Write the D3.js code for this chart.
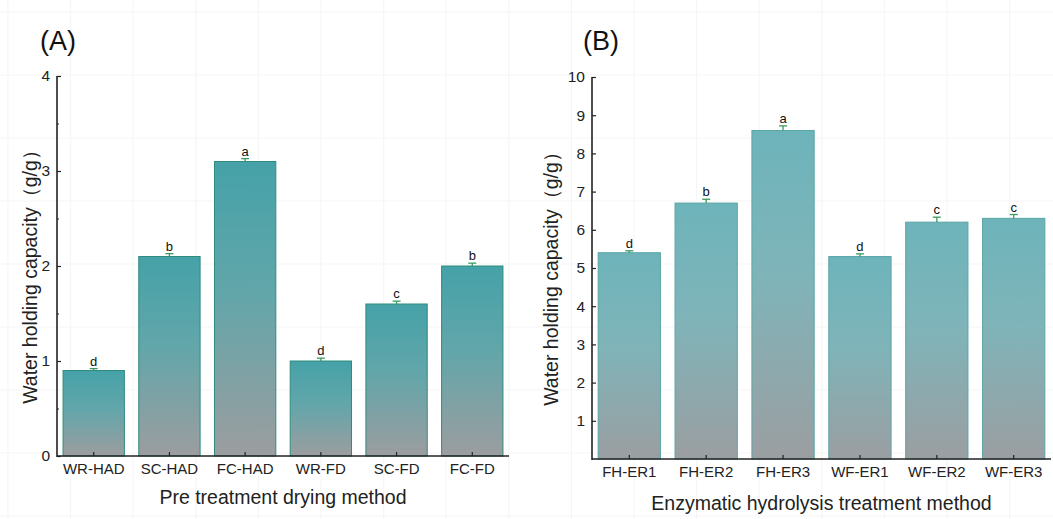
<!DOCTYPE html>
<html>
<head>
<meta charset="utf-8">
<script src="https://cdn.jsdelivr.net/npm/d3@7"></script>
<style>
  html, body { margin: 0; padding: 0; background: #fff; }
  svg { display: block; font-family: "Liberation Sans", Arial, sans-serif; }
</style>
</head>
<body>
<svg id="chart" width="1053" height="519"></svg>
<script>
// Panel A data
const catsA = ['WR-HAD', 'SC-HAD', 'FC-HAD', 'WR-FD', 'SC-FD', 'FC-FD'];
const valsA = [0.9, 2.1, 3.1, 1.0, 1.6, 2.0];
const errA = [0.02, 0.03, 0.03, 0.03, 0.03, 0.03];
const letA = ['d', 'b', 'a', 'd', 'c', 'b'];
const ticksA = [0, 1, 2, 3, 4];

// Panel B data
const catsB = ['FH-ER1', 'FH-ER2', 'FH-ER3', 'WF-ER1', 'WF-ER2', 'WF-ER3'];
const valsB = [5.4, 6.7, 8.6, 5.3, 6.2, 6.3];
const errB = [0.05, 0.1, 0.12, 0.07, 0.13, 0.1];
const letB = ['d', 'b', 'a', 'd', 'c', 'c'];
const ticksB = [1, 2, 3, 4, 5, 6, 7, 8, 9, 10];

const svg = d3.select('#chart');
const defs = svg.append('defs');

// faint background grid seen in the figure
const bg = svg.append('g').attr('stroke', '#f6f6f6').attr('stroke-width', 1.2);
d3.range(8, 1053, 62.6).forEach((x) => {
  bg.append('line').attr('x1', x).attr('x2', x).attr('y1', 0).attr('y2', 519);
});
d3.range(12, 519, 63).forEach((y) => {
  bg.append('line').attr('x1', 0).attr('x2', 1053).attr('y1', y).attr('y2', y);
});

function gradient(id, top, mid, bottom) {
  const g = defs.append('linearGradient').attr('id', id)
    .attr('x1', 0).attr('x2', 0).attr('y1', 0).attr('y2', 1);
  g.append('stop').attr('offset', '0%').attr('stop-color', top);
  g.append('stop').attr('offset', '45%').attr('stop-color', mid);
  g.append('stop').attr('offset', '100%').attr('stop-color', bottom);
}
gradient('gradA', '#45a2a8', '#62a6aa', '#9c9d9f');
gradient('gradB', '#6db4ba', '#7fb4b9', '#9b9ea1');

function panel(opt) {
  const g = svg.append('g');
  const x = d3.scaleBand().domain(opt.cats).range([opt.x0, opt.x1])
    .paddingInner(0.19).paddingOuter(0.08);
  const y = d3.scaleLinear().domain(opt.domain).range([opt.y0, opt.y1]);

  // bars
  g.append('g').selectAll('rect').data(opt.vals).join('rect')
    .attr('x', (d, i) => x(opt.cats[i]))
    .attr('y', (d) => y(d))
    .attr('width', x.bandwidth())
    .attr('height', (d) => y(0) - y(d))
    .attr('fill', `url(#${opt.grad})`)
    .attr('stroke', opt.stroke)
    .attr('stroke-width', 1);

  // error bars
  const eb = g.append('g').attr('stroke', '#3c9a5f').attr('stroke-width', 1.3);
  opt.vals.forEach((v, i) => {
    const cx = x(opt.cats[i]) + x.bandwidth() / 2;
    eb.append('line').attr('x1', cx).attr('x2', cx)
      .attr('y1', y(v)).attr('y2', y(v + opt.errs[i]));
    eb.append('line').attr('x1', cx - 4).attr('x2', cx + 4)
      .attr('y1', y(v + opt.errs[i])).attr('y2', y(v + opt.errs[i]));
  });

  // significance letters
  g.append('g').selectAll('text').data(opt.vals).join('text')
    .attr('x', (d, i) => x(opt.cats[i]) + x.bandwidth() / 2)
    .attr('y', (d, i) => y(d + opt.errs[i]) - 3)
    .attr('text-anchor', 'middle')
    .attr('font-size', 13)
    .attr('fill', '#111')
    .text((d, i) => opt.letters[i]);

  // y axis: ticks pointing inward
  const ya = g.append('g').attr('transform', `translate(${opt.x0},0)`)
    .call(d3.axisRight(y).tickValues(opt.ticks).tickSize(4).tickFormat(d3.format('d')));
  ya.select('.domain').remove();
  ya.selectAll('.tick line').attr('stroke', '#222').attr('stroke-width', 1.2);
  ya.selectAll('.tick text').attr('x', -7).attr('text-anchor', 'end')
    .attr('font-size', 15.5).attr('fill', '#222').attr('font-family', null);
  if (opt.minor) {
    g.append('g').attr('transform', `translate(${opt.x0},0)`)
      .call(d3.axisRight(y).tickValues(opt.minor).tickSize(2).tickFormat(''))
      .call((s) => s.select('.domain').remove())
      .selectAll('.tick line').attr('stroke', '#222');
  }
  g.append('line').attr('x1', opt.x0).attr('x2', opt.x0)
    .attr('y1', opt.y1).attr('y2', opt.y0 + 1)
    .attr('stroke', '#222').attr('stroke-width', 1.6);

  // x axis: ticks pointing up into the bars
  const xa = g.append('g').attr('transform', `translate(0,${opt.y0})`)
    .call(d3.axisTop(x).tickSize(4).tickSizeOuter(0));
  xa.select('.domain').remove();
  xa.selectAll('.tick line').attr('stroke', '#222').attr('stroke-width', 1.2);
  xa.selectAll('.tick text').attr('y', 7).attr('dy', '0.71em')
    .attr('font-size', 15).attr('fill', '#222').attr('font-family', null);
  g.append('line').attr('x1', opt.x0).attr('x2', opt.x1)
    .attr('y1', opt.y0).attr('y2', opt.y0)
    .attr('stroke', '#222').attr('stroke-width', 1.6);

  // titles
  g.append('text').attr('x', (opt.x0 + opt.x1) / 2).attr('y', opt.xTitleY)
    .attr('text-anchor', 'middle').attr('font-size', 19.5).attr('fill', '#222')
    .text(opt.xTitle);
  g.append('text')
    .attr('transform', `translate(${opt.yTitleX},${(opt.y0 + opt.y1) / 2 + 6}) rotate(-90)`)
    .attr('text-anchor', 'middle').attr('font-size', 19.5).attr('fill', '#222')
    .text('Water holding capacity（g/g）');
  g.append('text').attr('x', opt.labelX).attr('y', 50)
    .attr('font-size', 27).attr('fill', '#111').text(opt.label);
}

panel({
  cats: catsA, vals: valsA, errs: errA, letters: letA,
  domain: [0, 4], ticks: ticksA, minor: [0.5, 1.5, 2.5, 3.5],
  x0: 57, x1: 509, y0: 456, y1: 76,
  grad: 'gradA', stroke: '#2f8b7c',
  xTitle: 'Pre treatment drying method', xTitleY: 504,
  yTitleX: 37, label: '(A)', labelX: 40
});

panel({
  cats: catsB, vals: valsB, errs: errB, letters: letB,
  domain: [0, 10], ticks: ticksB, minor: null,
  x0: 592, x1: 1051, y0: 459, y1: 77,
  grad: 'gradB', stroke: '#5aa6a6',
  xTitle: 'Enzymatic hydrolysis treatment method', xTitleY: 510,
  yTitleX: 558, label: '(B)', labelX: 583
});
</script>
</body>
</html>
